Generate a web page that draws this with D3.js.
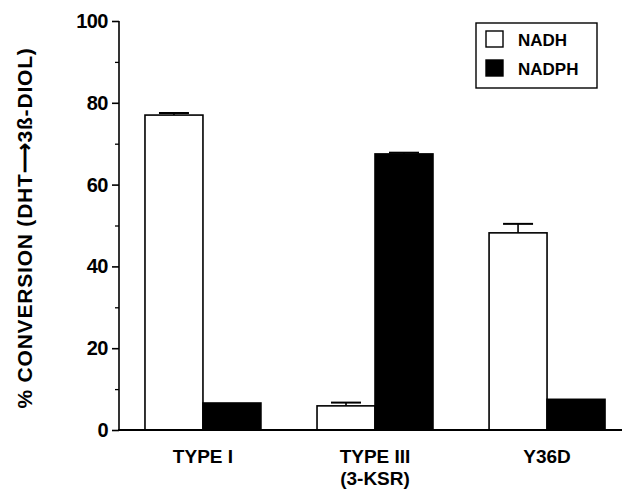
<!DOCTYPE html>
<html>
<head>
<meta charset="utf-8">
<script src="https://cdn.jsdelivr.net/npm/d3@7"></script>
<style>
  html, body { margin: 0; padding: 0; background: #fff; }
  svg { display: block; }
  text { font-family: "Liberation Sans", Arial, Helvetica, sans-serif; font-weight: bold; fill: #000; }
</style>
</head>
<body>
<script>
// ---- data ----
const categories = ["TYPE I", "TYPE III\n(3-KSR)", "Y36D"];
const seriesNames = ["NADH", "NADPH"];
const nadhValues = [77.0, 5.9, 48.2];
const nadphValues = [6.6, 67.5, 7.5];
const nadhErrors = [0.5, 0.8, 2.2];
const nadphErrors = [0, 0.3, 0];
const yTicks = [0, 20, 40, 60, 80, 100];
const yMinorTicks = [10, 30, 50, 70, 90];
const seriesFill = ["#ffffff", "#000000"];

const W = 624, H = 492;
const svg = d3.select("body").append("svg").attr("width", W).attr("height", H);

const y = d3.scaleLinear().domain([0, 100]).range([430, 21]);
const x0 = d3.scaleBand().domain(categories).range([119, 631])
  .paddingInner(0.326).paddingOuter(0.151);
const x1 = d3.scaleBand().domain(seriesNames).range([0, x0.bandwidth()]);

const rows = categories.map((c, i) => ({
  cat: c,
  vals: [
    { s: "NADH", v: nadhValues[i], e: nadhErrors[i] },
    { s: "NADPH", v: nadphValues[i], e: nadphErrors[i] }
  ]
}));

// bars
const g = svg.append("g");
const grp = g.selectAll("g.grp").data(rows).enter().append("g")
  .attr("transform", d => `translate(${x0(d.cat)},0)`);
grp.selectAll("rect").data(d => d.vals).enter().append("rect")
  .attr("x", d => x1(d.s))
  .attr("y", d => y(d.v))
  .attr("width", x1.bandwidth())
  .attr("height", d => y(0) - y(d.v))
  .attr("fill", d => seriesFill[seriesNames.indexOf(d.s)])
  .attr("stroke", "#000").attr("stroke-width", 1.6);

// error bars
const eb = grp.selectAll("g.err").data(d => d.vals.filter(v => v.e > 0)).enter().append("g");
eb.append("line")
  .attr("x1", d => x1(d.s) + x1.bandwidth() / 2)
  .attr("x2", d => x1(d.s) + x1.bandwidth() / 2)
  .attr("y1", d => y(d.v))
  .attr("y2", d => y(d.v + d.e))
  .attr("stroke", "#000").attr("stroke-width", 1.6);
eb.append("line")
  .attr("x1", d => x1(d.s) + x1.bandwidth() / 2 - 15)
  .attr("x2", d => x1(d.s) + x1.bandwidth() / 2 + 15)
  .attr("y1", d => y(d.v + d.e))
  .attr("y2", d => y(d.v + d.e))
  .attr("stroke", "#000").attr("stroke-width", 2);

// y axis
const yAxis = d3.axisLeft(y).tickValues(yTicks).tickSize(7).tickPadding(4).tickFormat(d3.format("d"));
const ya = svg.append("g").attr("transform", "translate(119,0)").call(yAxis);
ya.select(".domain").attr("stroke-width", 1.6).attr("d", `M0,${y(0)}V${y(100)}`);
ya.selectAll(".tick line").attr("stroke-width", 1.6);
ya.selectAll(".tick text").attr("font-size", 20).attr("font-family", "Liberation Sans, Arial, sans-serif")
  .attr("font-weight", "bold").attr("fill", "#000").attr("letter-spacing", -0.5);
const yMinor = d3.axisLeft(y).tickValues(yMinorTicks).tickSize(4).tickFormat("");
const ym = svg.append("g").attr("transform", "translate(119,0)").call(yMinor);
ym.select(".domain").remove();
ym.selectAll(".tick line").attr("stroke-width", 1.3);

// x axis baseline
svg.append("line").attr("x1", 118).attr("x2", 622).attr("y1", y(0)).attr("y2", y(0))
  .attr("stroke", "#000").attr("stroke-width", 1.8);

// category labels
const cl = svg.selectAll("text.cat").data(categories).enter().append("text")
  .attr("class", "cat")
  .attr("text-anchor", "middle")
  .attr("font-size", 19)
  .attr("x", d => x0(d) + x0.bandwidth() / 2);
cl.selectAll("tspan").data(d => d.split("\n")).enter().append("tspan")
  .attr("x", function() { return d3.select(this.parentNode).attr("x"); })
  .attr("y", (d, i) => 463 + i * 22)
  .text(d => d);

// y axis title
svg.append("text")
  .attr("transform", "translate(32,228) rotate(-90)")
  .attr("text-anchor", "middle")
  .attr("font-size", 21)
  .attr("letter-spacing", 0.8)
  .text("% CONVERSION (DHT\u27F63\u00DF-DIOL)");

// legend
const lg = svg.append("g");
lg.append("rect").attr("x", 476).attr("y", 23).attr("width", 121).attr("height", 65)
  .attr("fill", "#fff").attr("stroke", "#000").attr("stroke-width", 1.4);
const li = lg.selectAll("g.li").data(seriesNames).enter().append("g")
  .attr("transform", (d, i) => `translate(486,${31 + i * 29})`);
li.append("rect").attr("width", 17).attr("height", 16)
  .attr("fill", (d, i) => seriesFill[i]).attr("stroke", "#000").attr("stroke-width", 1.4);
li.append("text").attr("x", 32).attr("y", 15).attr("font-size", 17).text(d => d);
</script>
</body>
</html>
